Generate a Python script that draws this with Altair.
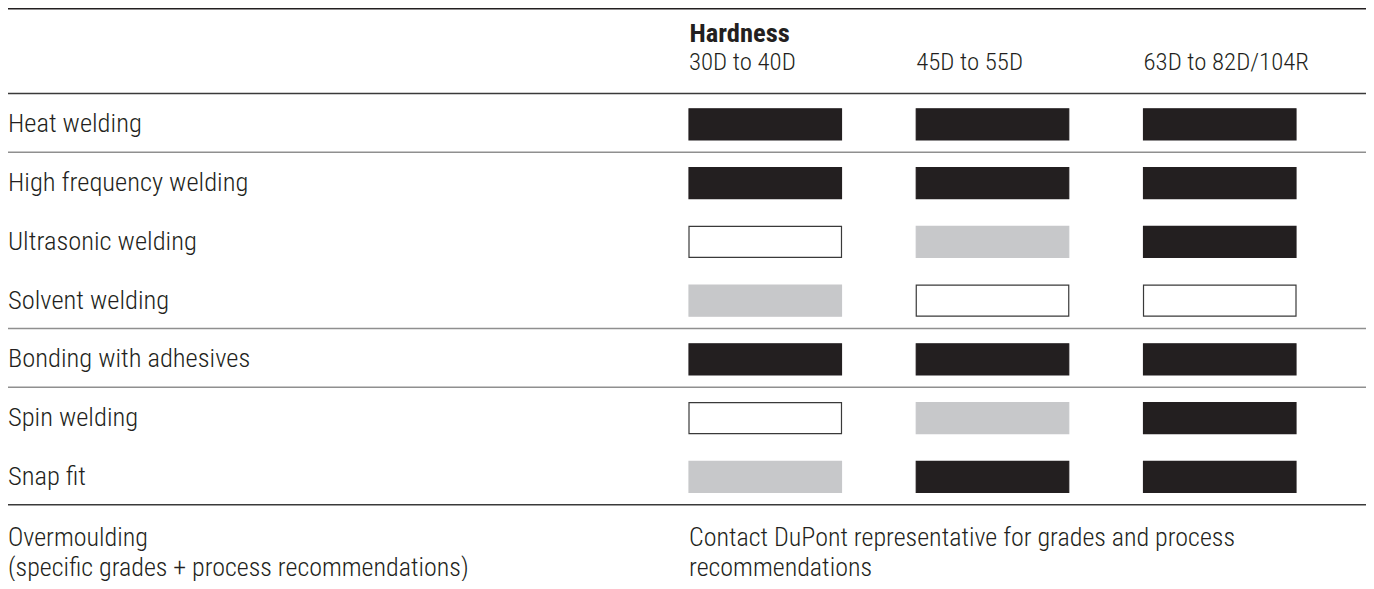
import altair as alt
import pandas as pd

# ---------------- data ----------------
processes = [
    "Heat welding",
    "High frequency welding",
    "Ultrasonic welding",
    "Solvent welding",
    "Bonding with adhesives",
    "Spin welding",
    "Snap fit",
]
hardness = ["30D to 40D", "45D to 55D", "63D to 82D/104R"]
column_title = "Hardness"
# suitability per process, one entry per hardness column
ratings = [
    ["good", "good", "good"],
    ["good", "good", "good"],
    ["poor", "fair", "good"],
    ["fair", "poor", "poor"],
    ["good", "good", "good"],
    ["poor", "fair", "good"],
    ["fair", "good", "good"],
]
levels = ["good", "fair", "poor"]
extra_row = "Overmoulding"
extra_row_label = "Overmoulding\n(specific grades + process recommendations)"
extra_note = "Contact DuPont representative for grades and process\nrecommendations"
# rows that open a new group (a separator line is drawn above them)
rule_rows = ["Heat welding", "High frequency welding", "Bonding with adhesives",
             "Spin welding", "Overmoulding"]
rule_kinds = ["major", "minor", "minor", "minor", "major"]

rows = processes + [extra_row]

# ---------------- style ----------------
FONT = "Roboto Condensed, Liberation Sans Narrow, DejaVu Sans Condensed, sans-serif"
INK = "#231f20"
FS = 26.5        # row labels
FS_NOTE = 26     # overmoulding texts
FS_HEAD = 24.8   # column labels
FS_TITLE = 26.5  # "Hardness"
WEIGHT = 300
W, H = 1358, 470
PAD_TOP, PAD_BOTTOM = 87, 16
X0, X1 = 681, 1288
P_IN = 0.329
BW = (X1 - X0) / (3 - P_IN) * (1 - P_IN)

fills = [INK, "#c7c8ca", "#ffffff"]
strokes = [INK, "#c7c8ca", "#3a3a3a"]

df = pd.DataFrame(
    [{"row": p, "col": c, "rating": r}
     for p, rr in zip(processes, ratings) for c, r in zip(hardness, rr)]
)
extra = pd.DataFrame({"row": [extra_row], "label": [extra_row_label],
                      "col": [hardness[0]], "note": [extra_note]})
rules_df = pd.DataFrame({"row": rule_rows, "kind": rule_kinds})

y_scale = alt.Scale(domain=rows, paddingInner=0.472, paddingOuter=0.236)
x_scale = alt.Scale(domain=hardness, range=[X0, X1], paddingInner=P_IN, paddingOuter=0)

x_axis = alt.Axis(
    orient="top", title=column_title, titleFont=FONT, titleFontSize=FS_TITLE,
    titleFontWeight="bold", titleColor=INK, titleAlign="left", titleAnchor="start",
    titleX=X0, titleY=-62, titleBaseline="middle", titlePadding=0,
    labelFont=FONT, labelFontSize=FS_HEAD, labelFontWeight=WEIGHT, labelColor=INK,
    labelAlign="left", labelBaseline="middle", labelPadding=33, labelAngle=0,
    labelLimit=500, labelOffset=-BW / 2,
    ticks=False, tickSize=0, domain=False, grid=False,
)

bars = alt.Chart(df).mark_rect(strokeWidth=1.2).encode(
    x=alt.X("col:N", scale=x_scale, axis=x_axis, sort=hardness),
    y=alt.Y("row:N", scale=y_scale, axis=None, sort=rows),
    fill=alt.Fill("rating:N", scale=alt.Scale(domain=levels, range=fills), legend=None),
    stroke=alt.Stroke("rating:N", scale=alt.Scale(domain=levels, range=strokes), legend=None),
)

labels = alt.Chart(pd.DataFrame({"row": processes})).mark_text(
    align="left", baseline="middle", font=FONT, fontSize=FS, fontWeight=WEIGHT, color=INK
).encode(
    x=alt.value(0),
    y=alt.Y("row:N", scale=y_scale, axis=None, sort=rows),
    text="row:N",
)

extra_label = alt.Chart(extra).mark_text(
    align="left", baseline="middle", font=FONT, fontSize=FS_NOTE, fontWeight=WEIGHT,
    color=INK, lineBreak="\n", lineHeight=30, dy=2,
).encode(
    x=alt.value(0),
    y=alt.Y("row:N", scale=y_scale, axis=None, sort=rows),
    text="label:N",
)

extra_note_layer = alt.Chart(extra).mark_text(
    align="left", baseline="middle", font=FONT, fontSize=FS_NOTE, fontWeight=WEIGHT,
    color=INK, lineBreak="\n", lineHeight=30, dy=2,
).encode(
    x=alt.X("col:N", scale=x_scale, axis=x_axis, sort=hardness, bandPosition=0),
    y=alt.Y("row:N", scale=y_scale, axis=None, sort=rows),
    text="note:N",
)

rules = alt.Chart(rules_df).mark_rule(strokeWidth=1.5, yOffset=-1.5).encode(
    x=alt.value(0),
    x2=alt.value("width"),
    y=alt.Y("row:N", scale=alt.Scale(domain=rows, paddingInner=0, paddingOuter=0),
            bandPosition=0, axis=None, sort=rows),
    color=alt.Color("kind:N", scale=alt.Scale(domain=["major", "minor"],
                                              range=["#3a3a3a", "#8f8f8f"]), legend=None),
)

top_rule = alt.Chart(pd.DataFrame({"row": ["top"]})).mark_rule(
    strokeWidth=1.5, color=INK
).encode(x=alt.value(0), x2=alt.value("width"), y=alt.value(-PAD_TOP + 0.75))

chart = (
    alt.layer(bars, labels, extra_label, extra_note_layer, rules, top_rule)
    .resolve_scale(y="independent")
    .properties(
        width=W, height=H,
        padding={"left": 0, "top": PAD_TOP, "right": 0, "bottom": PAD_BOTTOM},
        autosize=alt.AutoSizeParams(type="none"),
        background="white",
    )
    .configure_view(stroke=None)
)

chart.save("out.html", embed_options={"renderer": "svg", "actions": False})
